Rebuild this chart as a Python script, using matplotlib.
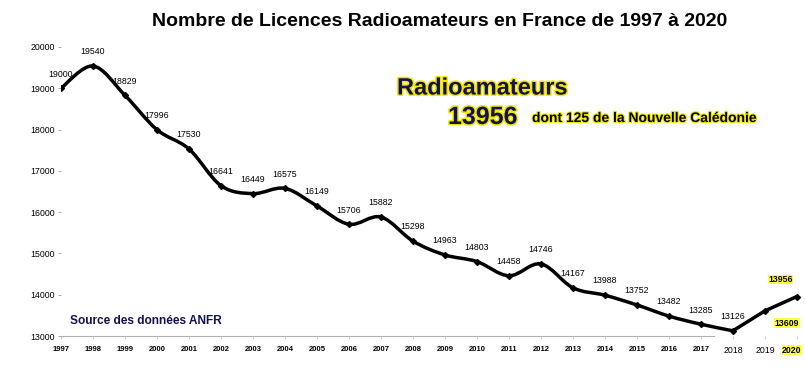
import matplotlib
matplotlib.use("Agg")
import matplotlib.pyplot as plt
import matplotlib.patheffects as pe
import matplotlib.transforms as mtransforms
from matplotlib.path import Path
from matplotlib.patches import PathPatch
import numpy as np

plt.rcParams["font.family"] = ["Liberation Sans", "DejaVu Sans"]

# Licences par année (source ANFR)
years = [1997, 1998, 1999, 2000, 2001, 2002, 2003, 2004, 2005, 2006, 2007, 2008,
         2009, 2010, 2011, 2012, 2013, 2014, 2015, 2016, 2017, 2018, 2019, 2020]
licences = [19000, 19540, 18829, 17996, 17530, 16641, 16449, 16575, 16149, 15706,
            15882, 15298, 14963, 14803, 14458, 14746, 14167, 13988, 13752, 13482,
            13285, 13126, 13609, 13956]
yticks = [13000, 14000, 15000, 16000, 17000, 18000, 19000, 20000]

NAVY = "#12124e"
YELLOW = "#ffff40"


def smooth_path(xs, ys):
    # courbe lissée façon Excel (Bézier cubiques, type Catmull-Rom)
    pts = np.column_stack([xs, ys]).astype(float)
    n = len(pts)
    verts = [pts[0]]
    codes = [Path.MOVETO]
    for i in range(n - 1):
        p0 = pts[max(i - 1, 0)]
        p1 = pts[i]
        p2 = pts[i + 1]
        p3 = pts[min(i + 2, n - 1)]
        verts += [p1 + (p2 - p0) / 6, p2 - (p3 - p1) / 6, p2]
        codes += [Path.CURVE4] * 3
    return verts, codes


fig = plt.figure(figsize=(8.05, 3.88), dpi=100)
ax = fig.add_axes([61 / 805, 52 / 388, 742 / 805, 289 / 388])
ax.set_xlim(1997, 2020.19)
ax.set_ylim(13000, 20000)

# partie lissée 1997-2018 puis segments droits 2018-2020
verts, codes = smooth_path(years[:22], licences[:22])
verts += [(years[22], licences[22]), (years[23], licences[23])]
codes += [Path.LINETO, Path.LINETO]
ax.add_patch(PathPatch(Path(verts, codes), facecolor="none", edgecolor="black",
                       lw=2.5, capstyle="round", joinstyle="round"))
ax.plot(years, licences, ls="none", marker="D", ms=3, color="black")

# étiquettes de valeurs
for x, y in zip(years[:22], licences[:22]):
    ax.annotate(str(y), (x, y), xytext=(0, 7), textcoords="offset points",
                ha="center", va="bottom", fontsize=6.3)
ax.annotate(str(licences[23]), (years[23], licences[23]), xytext=(-12, 9),
            textcoords="offset points", ha="center", va="bottom", fontsize=6.3,
            fontweight="bold", bbox=dict(boxstyle="square,pad=0.05", fc=YELLOW, ec="none"))
ax.annotate(str(licences[22]), (years[22], licences[22]), xytext=(16, -9),
            textcoords="offset points", ha="center", va="center", fontsize=6.3,
            fontweight="bold", bbox=dict(boxstyle="square,pad=0.05", fc=YELLOW, ec="none"))

# axes
for s in ["top", "right", "left"]:
    ax.spines[s].set_visible(False)
ax.spines["bottom"].set_color("#b0b0b0")
ax.spines["bottom"].set_linewidth(0.8)
ax.spines["bottom"].set_bounds(1997, 2017.4)
ax.set_yticks(yticks)
ax.set_yticklabels([str(v) for v in yticks], fontsize=6.3)
ax.tick_params(axis="y", length=2.5, width=0.6, color="#999999", pad=2)
ax.set_xticks(years)
ax.set_xticklabels([str(y) for y in years], fontsize=5.5, fontweight="bold")
ax.tick_params(axis="x", length=2, width=0.5, color="#bbbbbb", pad=5)
labels = ax.get_xticklabels()
for lab in labels[21:23]:
    lab.set_fontsize(6.3)
    lab.set_fontweight("normal")
labels[23].set_fontsize(6.3)
labels[23].set_bbox(dict(boxstyle="square,pad=0.05", fc=YELLOW, ec="none"))
labels[23].set_transform(labels[23].get_transform()
                         + mtransforms.ScaledTranslation(-5 / 100, 0, fig.dpi_scale_trans))

# textes
fig.text(440 / 805, 1 - 22 / 388, "Nombre de Licences Radioamateurs en France de 1997 à 2020",
         ha="center", va="center", fontsize=14, fontweight="bold")
glow = [pe.withStroke(linewidth=2.2, foreground="#f2e600")]
fig.text(397 / 805, 1 - 88 / 388, "Radioamateurs", ha="left", va="center",
         fontsize=17, fontweight="bold", color=NAVY, path_effects=glow)
fig.text(448 / 805, 1 - 117 / 388, "13956", ha="left", va="center",
         fontsize=18, fontweight="bold", color=NAVY, path_effects=glow)
fig.text(532 / 805, 1 - 118 / 388, "dont 125 de la Nouvelle Calédonie", ha="left",
         va="center", fontsize=10, fontweight="bold", color="black",
         path_effects=[pe.withStroke(linewidth=1.6, foreground="#f2e600")])
fig.text(70 / 805, 1 - 321 / 388, "Source des données ANFR", ha="left", va="center",
         fontsize=8.6, fontweight="bold", color=NAVY)

fig.savefig("out.png", dpi=100)
